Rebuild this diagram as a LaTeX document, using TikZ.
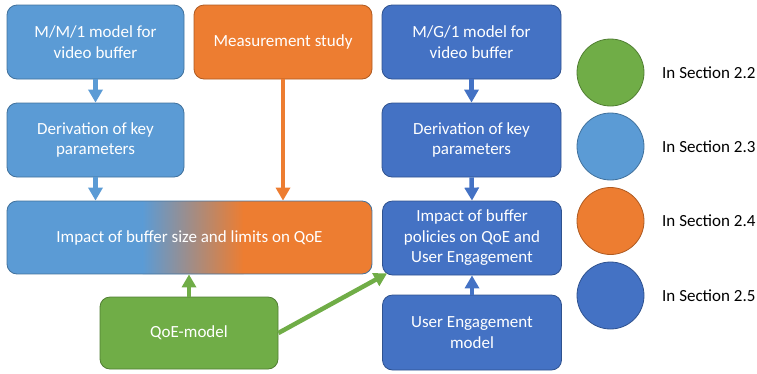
\documentclass[tikz,border=0pt]{standalone}
\usepackage{fontspec}
\setmainfont{Carlito}
\usetikzlibrary{arrows.meta}
\definecolor{lblue}{HTML}{5B9BD5}
\definecolor{lblueline}{HTML}{41719C}
\definecolor{dblue}{HTML}{4472C4}
\definecolor{dblueline}{HTML}{2F528F}
\definecolor{orng}{HTML}{ED7D31}
\definecolor{orngline}{HTML}{AE5A21}
\definecolor{grn}{HTML}{70AD47}
\definecolor{grnline}{HTML}{507E32}
\tikzset{
  box/.style={rectangle, rounded corners=10pt, line width=0.8pt, text=white,
    align=center, font=\fontsize{17}{20.5}\selectfont, inner sep=0pt},
  lbbox/.style={box, fill=lblue, draw=lblueline},
  dbbox/.style={box, fill=dblue, draw=dblueline},
  orbox/.style={box, fill=orng, draw=orngline},
  gnbox/.style={box, fill=grn, draw=grnline},
  legdot/.style={circle, minimum size=67pt, inner sep=0pt, line width=0.8pt},
  legtext/.style={anchor=west, inner sep=0pt, font=\fontsize{17}{20.5}\selectfont, text=black},
  flow/.style={line width=4.5pt, -{Triangle[width=14pt,length=13pt]}},
}
\begin{document}
\begin{tikzpicture}[x=1pt, y=-1pt]
\useasboundingbox (0,0) rectangle (757,373);

% left column and measurement study
\node[lbbox, minimum width=177pt, minimum height=74pt] (mm1) at (95.5,42) {M/M/1 model for\\video buffer};
\node[orbox, minimum width=178pt, minimum height=74pt] (meas) at (283,42) {Measurement study};
\node[lbbox, minimum width=177pt, minimum height=74pt] (derL) at (95.5,140) {Derivation of key\\parameters};

% wide box: blue fading into orange
\begin{scope}
  \clip[rounded corners=10pt] (7,201) rectangle (372,274);
  \fill[lblue] (7,201) rectangle (143,274);
  \shade[left color=lblue, right color=orng, shading=axis] (142.5,201) rectangle (243.5,274);
  \fill[orng] (243,201) rectangle (372,274);
\end{scope}
\node[box, draw=lblueline, minimum width=365pt, minimum height=73pt] (impL) at (189.5,237.5) {Impact of buffer size and limits on QoE};

\node[gnbox, minimum width=178pt, minimum height=72pt] (qoe) at (189,333) {QoE-model};

% right column
\node[dbbox, minimum width=179pt, minimum height=74pt] (mg1) at (471.5,42) {M/G/1 model for\\video buffer};
\node[dbbox, minimum width=179pt, minimum height=74pt] (derR) at (471.5,140) {Derivation of key\\parameters};
\node[dbbox, minimum width=179pt, minimum height=74pt] (impR) at (472,238) {Impact of buffer\\policies on QoE and\\User Engagement};
\node[dbbox, minimum width=179pt, minimum height=75pt] (ue) at (472,332.5) {User Engagement\\model};

% connectors
\draw[flow, lblue] (mm1.south) -- (derL.north);
\draw[flow, lblue] (derL.south) -- (derL.south |- impL.north);
\draw[flow, orng] (meas.south) -- (meas.south |- impL.north);
\draw[flow, grn] (qoe.north) -- (qoe.north |- impL.south);
\draw[flow, grn] (qoe.east) -- ([xshift=5pt,yshift=2pt]impR.south west);
\draw[flow, dblue] (mg1.south) -- (derR.north);
\draw[flow, dblue] (derR.south) -- (impR.north);
\draw[flow, dblue] (ue.north) -- (impR.south);

% legend
\node[legdot, fill=grn, draw=grnline] (c1) at (610.5,72.5) {};
\node[legdot, fill=lblue, draw=lblueline] (c2) at (610.5,146.5) {};
\node[legdot, fill=orng, draw=orngline] (c3) at (610.5,221) {};
\node[legdot, fill=dblue, draw=dblueline] (c4) at (610.5,295.5) {};
\node[legtext] (l1) at (662,72.5) {In Section 2.2};
\node[legtext] (l2) at (662,146.5) {In Section 2.3};
\node[legtext] (l3) at (662,221) {In Section 2.4};
\node[legtext] (l4) at (662,295.5) {In Section 2.5};
\end{tikzpicture}
\end{document}
